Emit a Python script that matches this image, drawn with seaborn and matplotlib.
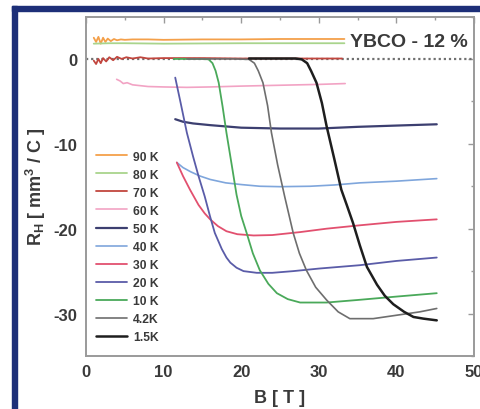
import matplotlib
matplotlib.use("Agg")
import matplotlib.pyplot as plt
from matplotlib.patches import Rectangle
from matplotlib.ticker import MultipleLocator
import seaborn as sns
import pandas as pd

# Hall coefficient R_H versus field B for YBCO (p = 12 %) at several temperatures
temps = ["90 K", "80 K", "70 K", "60 K", "50 K", "40 K", "30 K", "20 K", "10 K", "4.2K", "1.5K"]
colors = ["#f4a04a", "#a9d48c", "#c2463e", "#f2a3c4", "#3c3f70", "#7fa6dc",
          "#e2506f", "#5a5ca8", "#4aa95a", "#6e6e6e", "#1e1e1e"]
widths = [1.3, 1.3, 1.3, 1.2, 1.6, 1.2, 1.3, 1.3, 1.3, 1.2, 1.8]

b90 = [1.0, 1.3, 1.6, 1.9, 2.2, 2.5, 2.8, 3.2, 3.6, 4.0, 4.5, 5.0, 6, 8, 10, 15, 20, 25, 30, 33.3]
r90 = [2.5, 2.0, 2.6, 1.8, 2.5, 2.0, 2.4, 2.1, 2.35, 2.2, 2.3, 2.25, 2.3, 2.3, 2.25, 2.3, 2.3, 2.35, 2.35, 2.35]

b80 = [1.0, 3.0, 5.0, 10, 20, 33.3]
r80 = [1.8, 1.85, 1.85, 1.8, 1.85, 1.85]

b70 = [1.0, 1.3, 1.6, 1.9, 2.2, 2.6, 3.0, 3.5, 4.0, 4.6, 5.2, 6, 7, 8, 10, 15, 20, 25, 30, 33.0]
r70 = [-0.2, -0.6, 0.0, -0.5, 0.1, -0.3, 0.2, -0.15, 0.25, 0.0, 0.2, 0.05, 0.2, 0.05, 0.1, 0.1, 0.05, 0.05, 0.05, 0.05]

b60 = [3.95, 4.4, 4.8, 5.3, 6.0, 7, 8, 10, 13, 16, 20, 25, 30, 33.4]
r60 = [-2.4, -2.6, -2.9, -2.8, -3.05, -3.15, -3.25, -3.3, -3.35, -3.3, -3.2, -3.1, -3.0, -2.9]

b50 = [11.5, 12.5, 13.8, 16, 20, 25, 30, 35, 40, 45.2]
r50 = [-7.1, -7.4, -7.6, -7.8, -8.1, -8.2, -8.2, -8.0, -7.85, -7.7]

b40 = [11.7, 12.5, 13.5, 14.7, 16, 18, 20, 22.4, 25, 28.9, 32, 35.3, 40, 45.2]
r40 = [-12.2, -12.8, -13.3, -13.8, -14.2, -14.6, -14.8, -15.0, -15.05, -15.0, -14.85, -14.6, -14.4, -14.1]

b30 = [11.7, 12.5, 13.4, 14.5, 15.3, 16.0, 17, 18.1, 19.5, 21.6, 24, 27.6, 31, 35.3, 40, 45.2]
r30 = [-12.2, -13.8, -15.4, -17.2, -18.2, -18.9, -19.7, -20.3, -20.65, -20.8, -20.75, -20.4, -20.0, -19.6, -19.2, -18.9]

b20 = [11.5, 12.2, 13.0, 13.8, 14.5, 15.3, 16.0, 16.6, 17.5, 18.1, 18.6, 19.4, 20.3, 22, 24, 26.7, 30, 35.3, 40, 45.2]
r20 = [-2.2, -5.2, -8.7, -11.5, -13.8, -16.2, -18.6, -20.5, -22.4, -23.4, -24.0, -24.6, -25.0, -25.2, -25.2, -25.0, -24.7, -24.3, -23.8, -23.4]

b10 = [11.3, 13, 15, 15.8, 16.3, 16.7, 17.1, 17.6, 18.1, 18.8, 19.4, 20.0, 20.7, 21.5, 22.4, 23.5, 24.6, 26, 27.6, 31, 35, 40, 45.2]
r10 = [0.0, 0.0, 0.0, -0.05, -0.5, -1.4, -2.8, -5.6, -8.7, -12.6, -16.0, -18.5, -20.5, -22.9, -24.9, -26.5, -27.6, -28.3, -28.7, -28.7, -28.4, -28.0, -27.6]

b4 = [13.0, 16, 19, 21.0, 21.7, 22.2, 22.8, 23.4, 23.9, 24.7, 25.6, 26.7, 27.5, 28.4, 29.6, 31.0, 32.5, 34.0, 37.0, 40, 43, 45.2]
r4 = [0.0, 0.0, 0.0, -0.05, -0.5, -1.4, -2.8, -5.5, -8.7, -12.5, -16.2, -20.5, -22.9, -24.9, -26.9, -28.4, -29.8, -30.6, -30.6, -30.2, -29.8, -29.4]

b1 = [21.0, 24, 27, 27.8, 28.5, 29.0, 29.7, 30.4, 31.0, 32.0, 32.9, 33.6, 34.4, 35.3, 36.2, 37.5, 38.5, 39.6, 41, 42.2, 43.5, 45.2]
r1 = [0.05, 0.05, 0.05, -0.05, -0.5, -1.4, -2.8, -5.2, -7.9, -11.8, -15.4, -17.2, -19.3, -22.0, -24.5, -26.6, -27.9, -28.9, -29.8, -30.4, -30.6, -30.8]

fields = [b90, b80, b70, b60, b50, b40, b30, b20, b10, b4, b1]
hall = [r90, r80, r70, r60, r50, r40, r30, r20, r10, r4, r1]

sns.set_theme(style="white")
plt.rcParams["font.family"] = ["Liberation Sans", "DejaVu Sans"]
plt.rcParams["axes.unicode_minus"] = False
plt.rcParams["lines.solid_joinstyle"] = "round"
text_col = "#3a3a3a"
spine_col = "#9a9a9a"

fig = plt.figure(figsize=(4.81, 4.10), dpi=100)
fig.patch.set_facecolor("white")
ax = fig.add_axes([86 / 481, 1 - 357 / 410, 388 / 481, 339.5 / 410])

# zero reference
ax.axhline(0, color="#707070", lw=1.6, ls=(0, (1.0, 1.3)), zorder=1)

for t, c, w, b, r in zip(temps, colors, widths, fields, hall):
    df = pd.DataFrame({"B": b, "RH": r})
    sns.lineplot(data=df, x="B", y="RH", ax=ax, color=c, lw=w, label=t,
                 sort=False, estimator=None, zorder=2)

ax.set_xlim(0, 50)
ax.set_ylim(-35, 5)
ax.xaxis.set_major_locator(MultipleLocator(10))
ax.xaxis.set_minor_locator(MultipleLocator(5))
ax.yaxis.set_major_locator(MultipleLocator(10))
ax.yaxis.set_minor_locator(MultipleLocator(5))
ax.tick_params(which="both", direction="in", top=True, right=True,
               color=spine_col, width=1.0)
ax.tick_params(which="major", length=4, labelsize=12, labelcolor=text_col, pad=6)
ax.tick_params(which="minor", length=2.5)
for lab in ax.get_xticklabels() + ax.get_yticklabels():
    lab.set_fontweight("bold")
for s in ax.spines.values():
    s.set_color(spine_col)
    s.set_linewidth(1.4)

ax.set_xlabel("B [ T ]", fontsize=13, color=text_col, fontweight="bold", labelpad=7)
ax.set_ylabel(r"R$_\mathregular{H}$ [ mm$^\mathregular{3}$ / C ]", fontsize=13,
              color=text_col, fontweight="bold", labelpad=4)

ax.text(0.985, 0.925, "YBCO - 12 %", transform=ax.transAxes, ha="right", va="center",
        fontsize=14, color=text_col, fontweight="bold")

leg = ax.legend(loc="upper left", bbox_to_anchor=(0.025, 0.605), frameon=False,
                fontsize=8.7, handlelength=2.6, handletextpad=0.5, labelspacing=0.5,
                borderpad=0, borderaxespad=0)
for txt in leg.get_texts():
    txt.set_color(text_col)
    txt.set_fontweight("bold")

# blue frame strips along the left and top edges
fig.patches.append(Rectangle((12 / 481, 0), 5 / 481, 1 - 7 / 410, transform=fig.transFigure,
                             color="#1d2f78", zorder=10))
fig.patches.append(Rectangle((12 / 481, 1 - 12 / 410), 1 - 12 / 481, 5 / 410,
                             transform=fig.transFigure, color="#1d2f78", zorder=10))

fig.savefig("out.png", dpi=100, facecolor="white")
